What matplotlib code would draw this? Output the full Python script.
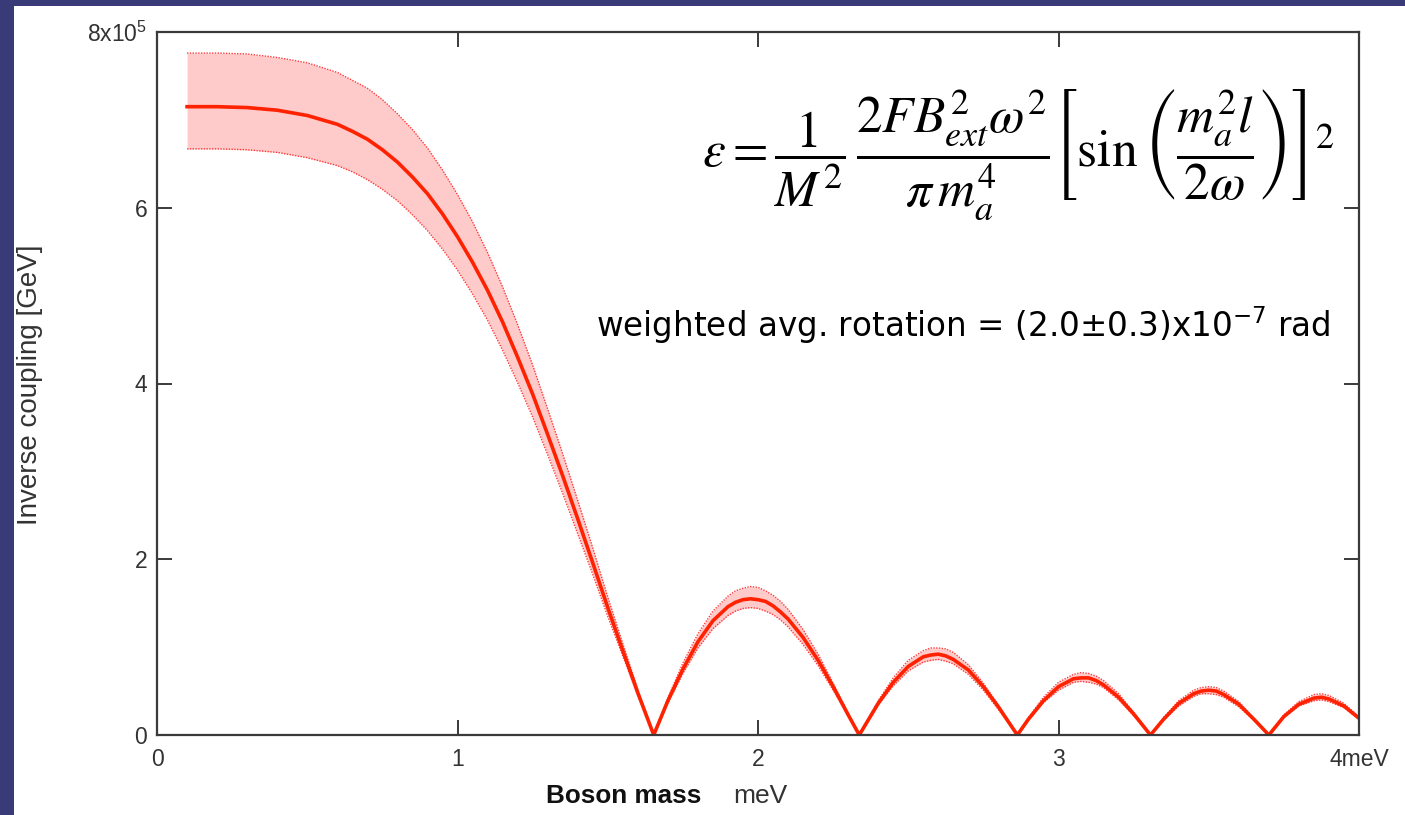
import matplotlib
matplotlib.use('Agg')
import matplotlib.pyplot as plt
from matplotlib.patches import Rectangle

# boson mass [meV] and inverse coupling [1e5 GeV]
mass = [0.10, 0.20, 0.30, 0.40, 0.50, 0.60, 0.65, 0.70, 0.75, 0.80, 0.85, 0.90, 0.95,
        1.00, 1.05, 1.10, 1.15, 1.20, 1.25, 1.30, 1.35, 1.40, 1.45, 1.50, 1.55, 1.60, 1.653,
        1.70, 1.75, 1.80, 1.85, 1.90, 1.925, 1.95, 1.975, 2.00, 2.025, 2.05, 2.075,
        2.10, 2.15, 2.20, 2.25, 2.30, 2.337,
        2.40, 2.45, 2.50, 2.55, 2.575, 2.60, 2.625, 2.65, 2.70, 2.75, 2.80, 2.863,
        2.90, 2.95, 3.00, 3.05, 3.075, 3.10, 3.125, 3.15, 3.20, 3.25, 3.306,
        3.35, 3.40, 3.45, 3.475, 3.50, 3.525, 3.55, 3.60, 3.65, 3.70,
        3.75, 3.80, 3.85, 3.875, 3.90, 3.95, 4.00]

coupling = [7.15, 7.15, 7.14, 7.11, 7.05, 6.95, 6.87, 6.78, 6.66, 6.52, 6.35, 6.16, 5.93,
            5.67, 5.38, 5.06, 4.70, 4.30, 3.88, 3.42, 2.95, 2.46, 1.96, 1.45, 0.96, 0.48, 0.0,
            0.39, 0.75, 1.06, 1.30, 1.46, 1.51, 1.54, 1.55, 1.54, 1.52, 1.47, 1.40,
            1.32, 1.11, 0.85, 0.55, 0.23, 0.0,
            0.36, 0.60, 0.78, 0.89, 0.91, 0.92, 0.90, 0.86, 0.74, 0.55, 0.32, 0.0,
            0.18, 0.39, 0.55, 0.64, 0.65, 0.65, 0.62, 0.57, 0.43, 0.24, 0.0,
            0.18, 0.36, 0.47, 0.50, 0.51, 0.50, 0.46, 0.35, 0.18, 0.0,
            0.21, 0.35, 0.42, 0.43, 0.41, 0.33, 0.19]

coupling_hi = [7.76, 7.76, 7.75, 7.71, 7.65, 7.54, 7.45, 7.36, 7.23, 7.07, 6.89, 6.68, 6.43,
               6.15, 5.84, 5.49, 5.10, 4.67, 4.21, 3.71, 3.20, 2.67, 2.13, 1.57, 1.04, 0.52, 0.0,
               0.42, 0.82, 1.15, 1.41, 1.58, 1.64, 1.67, 1.69, 1.68, 1.64, 1.59, 1.52,
               1.43, 1.20, 0.92, 0.59, 0.25, 0.0,
               0.39, 0.65, 0.85, 0.96, 0.99, 0.99, 0.98, 0.94, 0.80, 0.59, 0.34, 0.0,
               0.20, 0.43, 0.60, 0.69, 0.71, 0.70, 0.67, 0.62, 0.47, 0.26, 0.0,
               0.20, 0.39, 0.51, 0.54, 0.55, 0.54, 0.50, 0.38, 0.19, 0.0,
               0.23, 0.38, 0.46, 0.47, 0.45, 0.36, 0.21]

coupling_lo = [6.67, 6.67, 6.66, 6.63, 6.57, 6.48, 6.41, 6.32, 6.21, 6.08, 5.92, 5.74, 5.53,
               5.29, 5.02, 4.72, 4.38, 4.01, 3.62, 3.19, 2.75, 2.29, 1.83, 1.35, 0.90, 0.45, 0.0,
               0.36, 0.70, 0.99, 1.21, 1.36, 1.41, 1.44, 1.45, 1.44, 1.41, 1.37, 1.31,
               1.23, 1.03, 0.79, 0.51, 0.22, 0.0,
               0.34, 0.56, 0.73, 0.83, 0.85, 0.86, 0.84, 0.81, 0.69, 0.51, 0.29, 0.0,
               0.17, 0.37, 0.51, 0.60, 0.61, 0.60, 0.58, 0.54, 0.40, 0.22, 0.0,
               0.17, 0.33, 0.44, 0.47, 0.47, 0.46, 0.43, 0.32, 0.17, 0.0,
               0.20, 0.33, 0.39, 0.40, 0.38, 0.31, 0.18]

x_ticks = [0, 1, 2, 3, 4]
x_tick_labels = ['0', '1', '2', '3', '4meV']
y_ticks = [0, 2, 4, 6, 8]
y_tick_labels = ['0', '2', '4', '6', r'8x10$^{\mathregular{5}}$']

plt.rcParams['font.family'] = ['Liberation Sans', 'DejaVu Sans']

W, H = 1405, 815
fig = plt.figure(figsize=(W / 100, H / 100), dpi=100)
fig.patch.set_facecolor('#383b78')
# white slide area
fig.add_artist(Rectangle((14 / W, 0), 1, (H - 6) / H, transform=fig.transFigure,
                         facecolor='white', edgecolor='none', zorder=-5))

ax = fig.add_axes([157 / W, 80 / H, 1202 / W, 703 / H])
ax.set_facecolor('white')

# error band, dotted edges, central curve
ax.fill_between(mass, coupling_lo, coupling_hi, color='#ffcaca', lw=0)
ax.plot(mass, coupling_hi, color='#ff3a3a', lw=1.0, ls=(0, (1, 1)))
ax.plot(mass, coupling_lo, color='#ff3a3a', lw=1.0, ls=(0, (1, 1)))
ax.plot(mass, coupling, color='#ff2200', lw=2.6, solid_joinstyle='round')

ax.set_xlim(0, 4)
ax.set_ylim(0, 8)
ax.set_xticks(x_ticks)
ax.set_xticklabels(x_tick_labels)
ax.set_yticks(y_ticks)
ax.set_yticklabels(y_tick_labels)

for sp in ax.spines.values():
    sp.set_color('#3a3a3a')
    sp.set_linewidth(1.6)
ax.tick_params(direction='in', length=11, width=1.4, color='#3a3a3a',
               top=True, right=True, labelsize=16.5, labelcolor='#333333')
ax.tick_params(axis='x', pad=9)
ax.tick_params(axis='y', pad=7)

# axis labels
fig.text(546 / W, 1 - 803 / H, 'Boson mass', fontsize=18.8, fontweight='bold',
         color='#111111', ha='left', va='baseline')
fig.text(733 / W, 1 - 803 / H, 'meV', fontsize=19, color='#333333',
         ha='left', va='baseline')
fig.text(30 / W, 1 - 385 / H, 'Inverse coupling [GeV]', fontsize=20, color='#333333',
         rotation=90, ha='center', va='center')

# formula and result
fig.text(1018 / W, 1 - 155 / H,
         r'$\varepsilon = \dfrac{1}{M^2}\,\dfrac{2FB_{ext}^2\omega^2}{\pi\, m_a^4}'
         r'\left[\sin\left(\dfrac{m_a^2 l}{2\omega}\right)\right]^2$',
         fontsize=37, math_fontfamily='stix', ha='center', va='center', color='black')
fig.text(1330 / W, 1 - 325 / H,
         r'weighted avg. rotation = (2.0±0.3)x10$^{\mathregular{-7}}$ rad',
         fontsize=23.5, family=['DejaVu Sans'], ha='right', va='center', color='black')

fig.savefig('out.png', dpi=100, facecolor=fig.get_facecolor())
